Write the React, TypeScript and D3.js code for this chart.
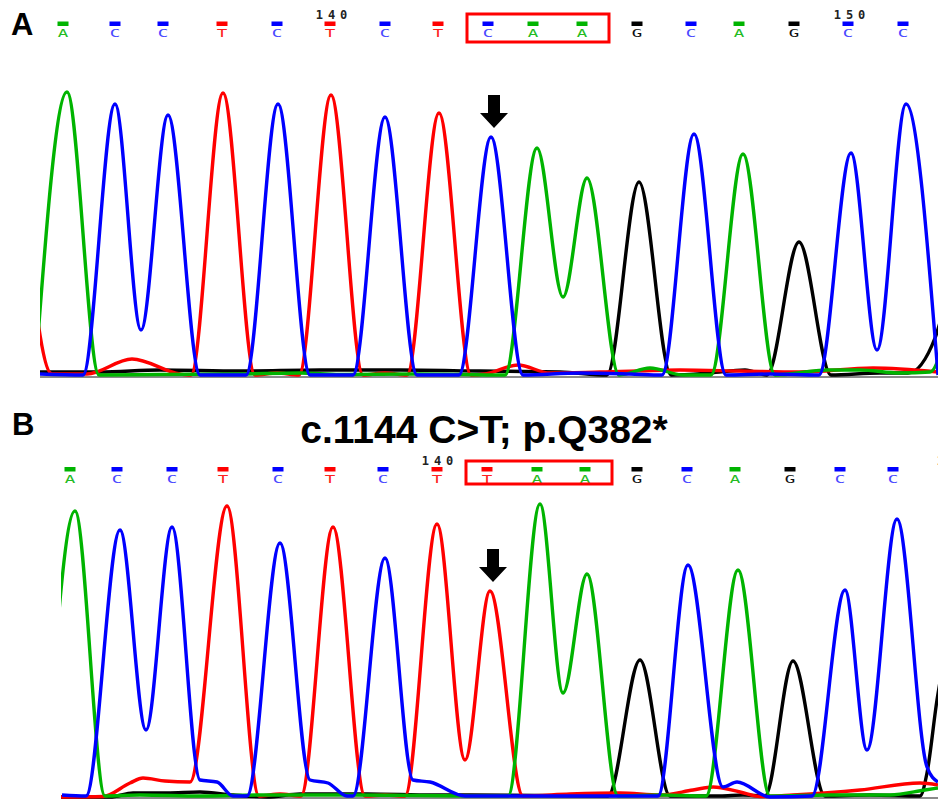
import React, { useEffect, useRef } from "react";
import * as d3 from "d3";

const W = 938;
const H = 799;

const baseColor = { A: "#00b400", C: "#0000ff", G: "#000000", T: "#ff0000" };
const letterColor = { A: "#22bb22", C: "#4a4aff", G: "#111111", T: "#ff2020" };

// ---- panel A (wild type) ----
const callsA = "ACCTCTCTCAAGCAGCC".split("");
const callScansA = [23, 75, 123, 182, 237, 290, 345, 398, 448, 493, 542, 597, 651, 699, 754, 808, 863];
const numbersA = [
  { text: "140", scan: 291 },
  { text: "150", scan: 809 },
];
// traces as [scan, signal]
const traceA_T = [[-18, 1900], [12, 20], [47, 20], [92, 170], [140, 20], [151, 10], [183, 2830], [215, 10], [237, 30], [259, 10], [291, 2810], [323, 10], [345, 30], [367, 10], [399, 2630], [431, 10], [445, 20], [478, 110], [510, 30], [560, 40], [640, 60], [700, 50], [760, 40], [833, 80], [898, 40]];
const traceA_A = [[-5, 0], [27, 2840], [59, 10], [120, 15], [200, 20], [260, 30], [300, 15], [380, 20], [465, 10], [497, 2280], [523, 790], [547, 1980], [579, 10], [610, 80], [643, 10], [671, 10], [703, 2220], [735, 10], [787, 60], [820, 60], [860, 30], [890, 40], [915, 900]];
const traceA_C = [[0, 20], [43, 10], [75, 2720], [101, 460], [128, 2610], [160, 10], [206, 10], [238, 2720], [270, 10], [313, 10], [345, 2590], [377, 10], [419, 10], [451, 2390], [483, 10], [540, 30], [590, 20], [622, 10], [654, 2420], [686, 10], [730, 20], [779, 10], [811, 2230], [837, 260], [866, 2720], [898, 10]];
const traceA_G = [[0, 40], [60, 40], [120, 60], [200, 50], [280, 60], [360, 60], [440, 50], [520, 40], [567, 10], [599, 1940], [631, 10], [670, 30], [705, 60], [727, 10], [759, 1340], [791, 10], [840, 30], [868, 30], [895, 380], [920, 1500]];

// ---- panel B (c.1144 C>T) ----
const callsB = "ACCTCTCTTAAGCAGCC".split("");
const callScansB = [30, 77, 132, 183, 238, 290, 343, 397, 447, 497, 545, 597, 647, 695, 750, 800, 853];
const numbersB = [
  { text: "140", scan: 397 },
  { text: "150", scan: 912 },
];
const traceB_T = [[21, 0], [63, 5], [90, 140], [103, 190], [125, 160], [150, 150], [187, 2910], [219, 10], [240, 30], [261, 10], [293, 2700], [325, 10], [345, 20], [365, 10], [397, 2730], [425, 370], [450, 2060], [483, 10], [530, 30], [580, 40], [620, 20], [653, 70], [673, 100], [700, 50], [720, 5], [753, 20], [820, 70], [880, 140], [898, 120]];
const traceB_A = [[5, 0], [35, 2860], [65, 10], [100, 20], [160, 10], [220, 20], [300, 20], [380, 15], [435, 10], [468, 10], [500, 2930], [523, 1040], [547, 2230], [578, 10], [620, 20], [666, 10], [698, 2270], [730, 10], [790, 20], [850, 20], [885, 70], [898, 90]];
const traceB_C = [[22, 20], [46, 10], [80, 2670], [106, 670], [132, 2700], [160, 170], [177, 150], [193, 10], [207, 10], [240, 2540], [270, 170], [288, 140], [307, 10], [313, 10], [345, 2390], [373, 170], [390, 150], [425, 10], [500, 10], [580, 10], [618, 10], [648, 2320], [683, 100], [697, 150], [730, 0], [772, 10], [805, 2070], [827, 470], [857, 2780], [887, 300], [898, 150]];
const traceB_G = [[21, 0], [70, 0], [93, 40], [127, 40], [160, 50], [193, 20], [227, 0], [260, 30], [327, 30], [393, 20], [430, 20], [568, 10], [600, 1370], [630, 10], [680, 10], [703, 20], [725, 10], [753, 1360], [785, 10], [830, 20], [880, 10], [887, 240], [897, 970], [920, 2000]];

const mutIndex = 8; // codon 382 starts here (C/T)

function drawPanel(svg, p) {
  const x = d3.scaleLinear().domain([0, 898]).range([40, W]);
  const y = d3.scaleLinear().domain([0, 3000]).range([p.base, p.base - 300]);

  const clipId = "clip" + p.name;
  svg.append("clipPath").attr("id", clipId)
    .append("rect")
    .attr("x", p.clipX).attr("y", p.base - 320)
    .attr("width", W - p.clipX).attr("height", 324);

  // axis line
  svg.append("line")
    .attr("x1", p.clipX).attr("x2", W)
    .attr("y1", p.base + 1).attr("y2", p.base + 1)
    .attr("stroke", "#8a8a8a").attr("stroke-width", 2);

  const line = d3.line().x(d => x(d[0])).y(d => y(d[1])).curve(d3.curveMonotoneX);
  const g = svg.append("g").attr("clip-path", `url(#${clipId})`);
  ["G", "T", "A", "C"].forEach(b => {
    g.append("path")
      .attr("d", line(p.traces[b]))
      .attr("fill", "none")
      .attr("stroke", baseColor[b])
      .attr("stroke-width", 3.4)
      .attr("stroke-linejoin", "round");
  });

  // base call row
  const calls = svg.append("g");
  p.calls.forEach((b, i) => {
    const cx = x(p.scans[i]);
    calls.append("rect")
      .attr("x", cx - 5.5).attr("y", p.barY)
      .attr("width", 11).attr("height", 4.5)
      .attr("fill", baseColor[b]);
    calls.append("text")
      .attr("transform", `translate(${cx},${p.letterY}) scale(1.25,0.75)`)
      .attr("text-anchor", "middle")
      .attr("font-family", "DejaVu Sans Mono, monospace")
      .attr("font-size", 14)
      .attr("fill", letterColor[b])
      .text(b);
  });
  p.numbers.forEach(n => {
    svg.append("text")
      .attr("x", x(n.scan) + 3).attr("y", p.numY)
      .attr("text-anchor", "middle")
      .attr("font-family", "DejaVu Sans Mono, monospace")
      .attr("font-weight", "bold")
      .attr("font-size", 12)
      .attr("letter-spacing", 5)
      .attr("fill", "#222")
      .text(n.text);
  });

  // codon box
  const bx0 = x(p.scans[mutIndex]) - 21;
  const bx1 = x(p.scans[mutIndex + 2]) + 27;
  svg.append("rect")
    .attr("x", bx0).attr("y", p.boxY)
    .attr("width", bx1 - bx0).attr("height", p.boxH)
    .attr("fill", "none").attr("stroke", "#ff0000").attr("stroke-width", 3);

  // arrow over the peak of the mutated position
  const b = p.calls[mutIndex];
  const near = p.traces[b].filter(d => Math.abs(d[0] - p.scans[mutIndex]) < 15);
  const pk = near.reduce((a, d) => (d[1] > a[1] ? d : a), near[0]);
  const ax = x(pk[0]) + 3;
  const at = y(pk[1]) - 42;
  svg.append("path")
    .attr("d", `M${ax - 6},${at} H${ax + 6} V${at + 18} H${ax + 14} L${ax},${at + 33} L${ax - 14},${at + 18} H${ax - 6} Z`)
    .attr("fill", "#000");

  svg.append("text")
    .attr("x", p.labelX).attr("y", p.labelY)
    .attr("font-family", "Liberation Sans, Arial, sans-serif")
    .attr("font-weight", "bold")
    .attr("font-size", 31)
    .text(p.name);
}

function App() {
  const ref = useRef(null);

  useEffect(() => {
    document.body.style.margin = "0";
    const svg = d3.select(ref.current);
    svg.selectAll("*").remove();

    drawPanel(svg, {
      name: "A", base: 376, clipX: 40,
      calls: callsA, scans: callScansA, numbers: numbersA,
      traces: { A: traceA_A, C: traceA_C, G: traceA_G, T: traceA_T },
      barY: 21.5, letterY: 36.5, numY: 19, boxY: 14, boxH: 28,
      labelX: 11, labelY: 35,
    });
    drawPanel(svg, {
      name: "B", base: 797, clipX: 61,
      calls: callsB, scans: callScansB, numbers: numbersB,
      traces: { A: traceB_A, C: traceB_C, G: traceB_G, T: traceB_T },
      barY: 467, letterY: 482.5, numY: 465, boxY: 461, boxH: 23,
      labelX: 12, labelY: 435,
    });

    svg.append("text")
      .attr("x", 484).attr("y", 443)
      .attr("text-anchor", "middle")
      .attr("font-family", "Liberation Sans, Arial, sans-serif")
      .attr("font-weight", "bold")
      .attr("font-size", 39)
      .text("c.1144 C>T; p.Q382*");
  }, []);

  return (
    <svg ref={ref} width={W} height={H} style={{ display: "block", background: "#fff" }} />
  );
}

export default App;
